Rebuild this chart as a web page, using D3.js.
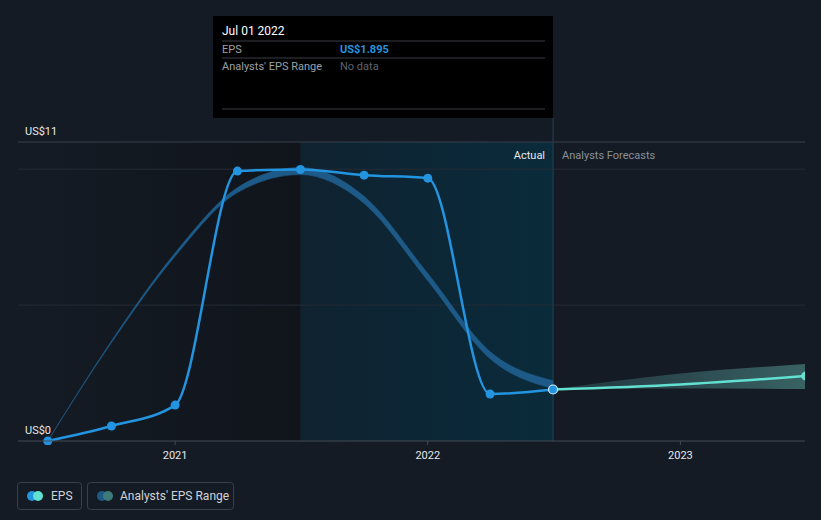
<!DOCTYPE html>
<html><head><meta charset="utf-8">
<script src="https://cdn.jsdelivr.net/npm/d3@7"></script>
<style>
html,body{margin:0;padding:0;background:#151b24;}
svg{display:block;font-family:Roboto,"Noto Sans",sans-serif;}
</style></head>
<body><svg id="c" width="821" height="520"></svg>
<script>
// ---- data ----
const epsDates = ["2020-07-01","2020-10-01","2021-01-01","2021-04-01","2021-07-01","2021-10-01","2022-01-01","2022-04-01","2022-07-01"];
const epsValues = [0.0, 0.55, 1.32, 9.93, 9.99, 9.78, 9.67, 1.73, 1.895];
const pastRangeLow  = [0.00, 3.62, 6.80, 9.14, 9.80, 8.74, 5.90, 3.03, 1.93];
const pastRangeHigh = [0.00, 3.68, 6.92, 9.32, 10.06, 9.00, 6.16, 3.29, 2.22];
const fcDates = ["2022-07-01","2023-01-01","2023-07-01"];
const fcValues = [1.895, 2.08, 2.39];
const fcLow = [1.895, 1.93, 1.91];
const fcHigh = [1.895, 2.48, 2.83];
const yTickLabels = ["US$0","US$11"];
const yTickValues = [0, 11];
const yGridValues = [5, 10];
const xTickDates = ["2021-01-01","2022-01-01","2023-01-01"];
const xTickLabels = ["2021","2022","2023"];
const tooltip = {date:"Jul 01 2022", eps:"US$1.895", range:"No data"};

const P = d3.timeParse("%Y-%m-%d");
const svg = d3.select("#c");
const x = d3.scaleTime().domain([P("2020-05-19"), P("2023-06-30")]).range([18, 805]);
const y = d3.scaleLinear().domain([0, 11]).range([441, 142]);
const splitX = x(P("2022-07-01"));
const hlX = x(P("2021-07-01"));

const defs = svg.append("defs");
const g1 = defs.append("linearGradient").attr("id","pastG").attr("x1",0).attr("x2",1);
g1.append("stop").attr("offset",0).attr("stop-color","#151b24");
g1.append("stop").attr("offset",1).attr("stop-color","#10151c");
const g2 = defs.append("linearGradient").attr("id","hlG").attr("x1",0).attr("x2",1);
g2.append("stop").attr("offset",0).attr("stop-color","#0f2230");
g2.append("stop").attr("offset",1).attr("stop-color","#0a2b3b");
const g3 = defs.append("linearGradient").attr("id","fcG").attr("x1",0).attr("x2",1);
g3.append("stop").attr("offset",0).attr("stop-color","#2a4a52").attr("stop-opacity",0.6);
g3.append("stop").attr("offset",1).attr("stop-color","#3d6a6a").attr("stop-opacity",0.9);
defs.append("clipPath").attr("id","clip").append("rect").attr("x",18).attr("y",100).attr("width",805-18).attr("height",345);

// backgrounds
svg.append("rect").attr("x",18).attr("y",y(11)).attr("width",hlX-18).attr("height",y(0)-y(11)).attr("fill","url(#pastG)");
svg.append("rect").attr("x",hlX).attr("y",y(11)).attr("width",splitX-hlX).attr("height",y(0)-y(11)).attr("fill","url(#hlG)");

// gridlines
svg.selectAll(".grid").data(yGridValues).enter().append("line")
  .attr("x1",18).attr("x2",805).attr("y1",d=>y(d)).attr("y2",d=>y(d))
  .attr("stroke","#252c36").attr("stroke-width",1);
svg.append("line").attr("x1",18).attr("x2",805).attr("y1",y(11)).attr("y2",y(11)).attr("stroke","#3a404a");

// split line
svg.append("line").attr("x1",splitX).attr("x2",splitX).attr("y1",118).attr("y2",y(0)).attr("stroke","#1d4556").attr("stroke-width",1);

// y labels
svg.selectAll(".yl").data(yTickValues).enter().append("text")
  .attr("x",25).attr("y",d=>y(d)-7).attr("fill","#e6e8ea").attr("font-size",11).text((d,i)=>yTickLabels[i]);

const main = svg.append("g").attr("clip-path","url(#clip)");

// past range band
const pastData = epsDates.map((d,i)=>({d:P(d), lo:pastRangeLow[i], hi:pastRangeHigh[i]}));
main.append("path").datum(pastData)
  .attr("d", d3.area().curve(d3.curveMonotoneX).x(d=>x(d.d)).y0(d=>y(d.lo)).y1(d=>y(d.hi)))
  .attr("fill","#1e5a87").attr("stroke","#1e5a87").attr("stroke-width",0.8).attr("stroke-opacity",0.8);

// forecast band
const fcData = fcDates.map((d,i)=>({d:P(d), v:fcValues[i], lo:fcLow[i], hi:fcHigh[i]}));
main.append("path").datum(fcData)
  .attr("d", d3.area().curve(d3.curveMonotoneX).x(d=>x(d.d)).y0(d=>y(d.lo)).y1(d=>y(d.hi)))
  .attr("fill","url(#fcG)");

// EPS line
const epsData = epsDates.map((d,i)=>({d:P(d), v:epsValues[i]}));
const line = d3.line().curve(d3.curveMonotoneX).x(d=>x(d.d)).y(d=>y(d.v));
main.append("path").datum(epsData).attr("d",line).attr("fill","none").attr("stroke","#2394df").attr("stroke-width",2.5);
main.append("path").datum(fcData).attr("d",line).attr("fill","none").attr("stroke","#62e0d0").attr("stroke-width",2.5);

main.selectAll(".dot").data(epsData.slice(0,-1)).enter().append("circle")
  .attr("cx",d=>x(d.d)).attr("cy",d=>y(d.v)).attr("r",4.5).attr("fill","#2394df");
main.append("circle").attr("cx",x(fcData[fcData.length-1].d)).attr("cy",y(fcData[fcData.length-1].v)).attr("r",4.5).attr("fill","#62e0d0");
const last = epsData[epsData.length-1];
main.append("circle").attr("cx",x(last.d)).attr("cy",y(last.v)).attr("r",4.5).attr("fill","#2394df").attr("stroke","#d8ecf7").attr("stroke-width",1.2);

// x axis
svg.append("line").attr("x1",18).attr("x2",805).attr("y1",y(0)).attr("y2",y(0)).attr("stroke","#444b55");
svg.selectAll(".xt").data(xTickDates).enter().append("line")
  .attr("x1",d=>x(P(d))).attr("x2",d=>x(P(d))).attr("y1",y(0)).attr("y2",y(0)+4).attr("stroke","#444b55");
svg.selectAll(".xl").data(xTickDates).enter().append("text")
  .attr("x",d=>x(P(d))).attr("y",459).attr("text-anchor","middle").attr("fill","#e6e8ea").attr("font-size",11)
  .text((d,i)=>xTickLabels[i]);

// Actual / Forecast labels
svg.append("text").attr("x",splitX-8).attr("y",159).attr("text-anchor","end").attr("fill","#e6e8ea").attr("font-size",11).text("Actual");
svg.append("text").attr("x",splitX+9).attr("y",159).attr("fill","#8a9099").attr("font-size",11).text("Analysts Forecasts");

// tooltip
const tt = svg.append("g");
tt.append("rect").attr("x",213).attr("y",16).attr("width",340).attr("height",102).attr("fill","#000");
tt.append("text").attr("x",222).attr("y",35).attr("fill","#fff").attr("font-size",12).text(tooltip.date);
[41,58,109].forEach(yy=>tt.append("line").attr("x1",222).attr("x2",545).attr("y1",yy).attr("y2",yy).attr("stroke","#3a3d42"));
tt.append("text").attr("x",222).attr("y",53).attr("fill","#9aa0a6").attr("font-size",11).text("EPS");
tt.append("text").attr("x",340).attr("y",53).attr("fill","#2394df").attr("font-size",11).attr("font-weight",700).text(tooltip.eps);
tt.append("text").attr("x",222).attr("y",70).attr("fill","#9aa0a6").attr("font-size",11).text("Analysts' EPS Range");
tt.append("text").attr("x",340).attr("y",70).attr("fill","#5f646a").attr("font-size",11).text(tooltip.range);

// legend
const leg = svg.append("g");
leg.append("rect").attr("x",17.5).attr("y",482.5).attr("width",64).attr("height",27).attr("rx",3).attr("fill","none").attr("stroke","#3a404a");
leg.append("circle").attr("cx",32).attr("cy",496).attr("r",5).attr("fill","#2394df");
leg.append("circle").attr("cx",38).attr("cy",496).attr("r",5).attr("fill","#62e0d0");
leg.append("text").attr("x",51).attr("y",500).attr("fill","#d0d3d7").attr("font-size",12).text("EPS");
leg.append("rect").attr("x",87.5).attr("y",482.5).attr("width",146).attr("height",27).attr("rx",3).attr("fill","none").attr("stroke","#3a404a");
leg.append("circle").attr("cx",102).attr("cy",496).attr("r",5).attr("fill","#1e5a87");
leg.append("circle").attr("cx",108).attr("cy",496).attr("r",5).attr("fill","#3d7a78");
leg.append("text").attr("x",120).attr("y",500).attr("fill","#d0d3d7").attr("font-size",12).text("Analysts' EPS Range");
</script></body></html>
